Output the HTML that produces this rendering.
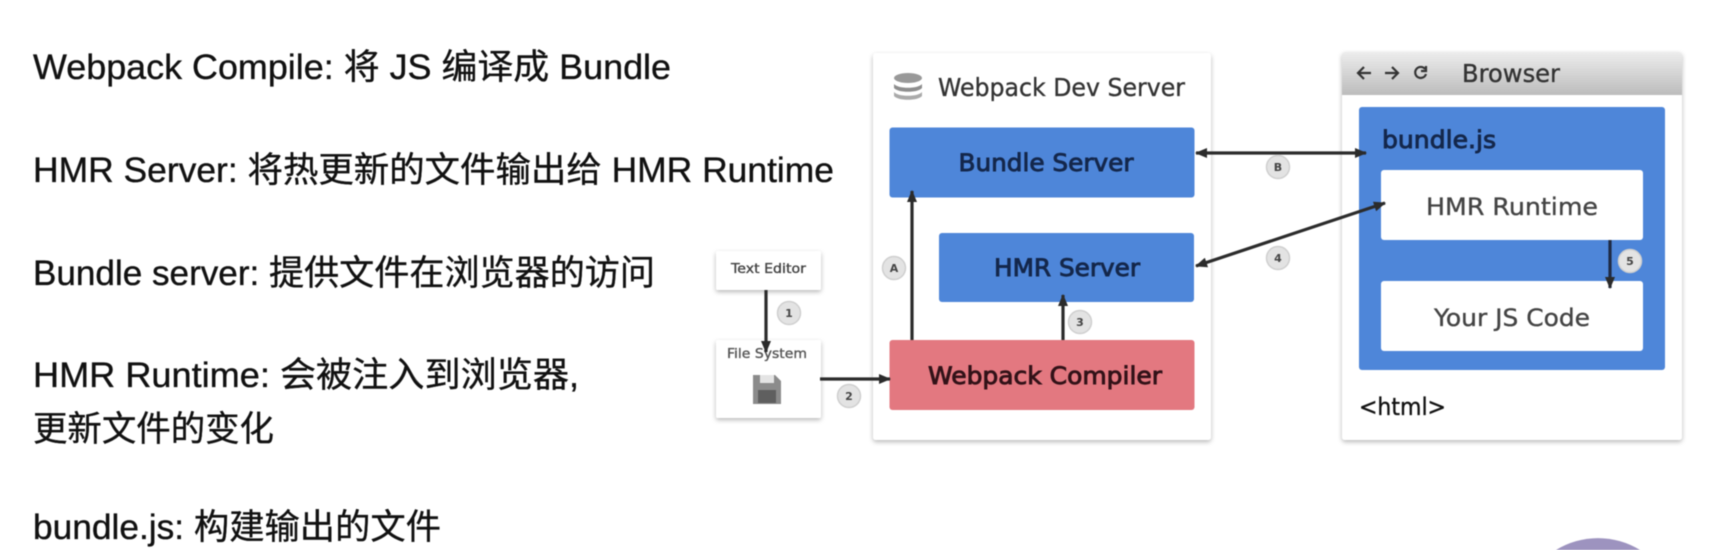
<!DOCTYPE html>
<html><head><meta charset="utf-8"><style>
html,body{margin:0;padding:0;background:#fff;width:1724px;height:550px;overflow:hidden}
svg{display:block;filter:blur(.6px)}
.l{font-family:"Liberation Sans","Noto Sans CJK SC",sans-serif;font-size:35px;fill:#111;stroke:#111;stroke-width:.35px}
.d{font-family:"DejaVu Sans","Noto Sans CJK SC",sans-serif;stroke-width:.35px}
.b{stroke-width:.9px}
.n{font-family:"DejaVu Sans",sans-serif;font-size:11px;font-weight:bold;fill:#444;text-anchor:middle}
</style></head><body>
<svg width="1724" height="550" viewBox="0 0 1724 550" xmlns="http://www.w3.org/2000/svg">
<defs>
<filter id="s" x="-10%" y="-10%" width="120%" height="125%"><feDropShadow dx="0" dy="2" stdDeviation="2.5" flood-color="#000" flood-opacity=".28"/></filter>
<linearGradient id="g" x1="0" y1="0" x2="0" y2="1"><stop offset="0" stop-color="#ededed"/><stop offset="1" stop-color="#bcbcbc"/></linearGradient>
<marker id="a" viewBox="0 0 12 10" refX="11" refY="5" markerWidth="13" markerHeight="10" markerUnits="userSpaceOnUse" orient="auto-start-reverse"><path d="M0 0L12 5L0 10z" fill="#2b2b2b"/></marker>
</defs>
<rect width="1724" height="550" fill="#fff"/>
<text class="l" x="33" y="79" textLength="638" lengthAdjust="spacingAndGlyphs">Webpack Compile: 将 JS 编译成 Bundle</text>
<text class="l" x="33" y="182" textLength="801" lengthAdjust="spacingAndGlyphs">HMR Server: 将热更新的文件输出给 HMR Runtime</text>
<text class="l" x="33" y="285" textLength="622" lengthAdjust="spacingAndGlyphs">Bundle server: 提供文件在浏览器的访问</text>
<text class="l" x="33" y="387" textLength="546" lengthAdjust="spacingAndGlyphs">HMR Runtime: 会被注入到浏览器,</text>
<text class="l" x="33" y="441" textLength="241" lengthAdjust="spacingAndGlyphs">更新文件的变化</text>
<text class="l" x="33" y="539" textLength="408" lengthAdjust="spacingAndGlyphs">bundle.js: 构建输出的文件</text>

<rect x="716" y="251" width="105" height="39" rx="2" fill="#fff" filter="url(#s)"/>
<text class="d" x="768.5" y="273" font-size="13.5" fill="#444" stroke="#444" text-anchor="middle" textLength="75" lengthAdjust="spacingAndGlyphs">Text Editor</text>
<rect x="716" y="340" width="105" height="78" rx="2" fill="#fff" filter="url(#s)"/>
<text class="d" x="767" y="358" font-size="13.5" fill="#555" stroke="#555" text-anchor="middle" textLength="80" lengthAdjust="spacingAndGlyphs">File System</text>
<path d="M753 375h22l6 6v23h-28z" fill="#8b8b8b"/><rect x="760" y="375" width="14" height="8" fill="#e4e4e4"/><rect x="758" y="390" width="18" height="13" fill="#5f5f5f"/>

<rect x="873" y="53" width="338" height="387" rx="3" fill="#fff" filter="url(#s)"/>
<ellipse cx="908" cy="78" rx="14" ry="5" fill="#999"/>
<path d="M894 84c4 5 24 5 28 0v4c-4 5-24 5-28 0z" fill="#8e8e8e"/><path d="M894 92c4 5 24 5 28 0v4c-4 5-24 5-28 0z" fill="#aaa"/>
<text class="d" x="938" y="96" font-size="25" fill="#333" stroke="#333" textLength="247" lengthAdjust="spacingAndGlyphs">Webpack Dev Server</text>

<rect x="889.500" y="127.500" width="305" height="70" rx="3" fill="#4e86d9"/>
<text class="d b" x="1046" y="171" font-size="24" fill="#14274b" stroke="#14274b" text-anchor="middle" textLength="175" lengthAdjust="spacingAndGlyphs">Bundle Server</text>
<rect x="939" y="233" width="255" height="69" rx="3" fill="#4e86d9"/>
<text class="d b" x="1067" y="276" font-size="24" fill="#14274b" stroke="#14274b" text-anchor="middle" textLength="146" lengthAdjust="spacingAndGlyphs">HMR Server</text>
<rect x="889.500" y="340" width="305" height="70" rx="3" fill="#e37880"/>
<text class="d b" x="1045" y="384" font-size="24" fill="#321218" stroke="#321218" text-anchor="middle" textLength="234" lengthAdjust="spacingAndGlyphs">Webpack Compiler</text>

<rect x="1342" y="52" width="340" height="388" rx="3" fill="#fff" filter="url(#s)"/>
<path d="M1342 95V55a3 3 0 0 1 3-3h334a3 3 0 0 1 3 3v40z" fill="url(#g)"/>
<g stroke="#333" stroke-width="2.2" fill="none">
<path d="M1371 73H1359M1364 67l-6 6l6 6"/>
<path d="M1385 73H1397M1392 67l6 6l-6 6"/>
<path d="M1425 69a5.500 5.500 0 1 0 1 5M1426 66v5h-5"/>
</g>
<text class="d" x="1462" y="82" font-size="25" fill="#333" stroke="#333" textLength="98" lengthAdjust="spacingAndGlyphs">Browser</text>
<rect x="1359" y="107" width="306" height="263" rx="3" fill="#4e86d9"/>
<text class="d b" x="1382" y="148" font-size="24" fill="#14274b" stroke="#14274b" textLength="114" lengthAdjust="spacingAndGlyphs">bundle.js</text>
<rect x="1381" y="170" width="262" height="70" rx="3" fill="#fff"/>
<text class="d" x="1512" y="215" font-size="24" fill="#444" stroke="#444" text-anchor="middle" textLength="172" lengthAdjust="spacingAndGlyphs">HMR Runtime</text>
<rect x="1381" y="281" width="262" height="70" rx="3" fill="#fff"/>
<text class="d" x="1512" y="326" font-size="24" fill="#444" stroke="#444" text-anchor="middle" textLength="156" lengthAdjust="spacingAndGlyphs">Your JS Code</text>
<text class="d" x="1359" y="415" font-size="24" fill="#111" stroke="#111" textLength="87" lengthAdjust="spacingAndGlyphs">&lt;html&gt;</text>

<g stroke="#2b2b2b" stroke-width="3.2" fill="none">
<path d="M766 290V352" marker-end="url(#a)"/>
<path d="M820 379H890" marker-end="url(#a)"/>
<path d="M912 340V191" marker-end="url(#a)"/>
<path d="M1063 340V295" marker-end="url(#a)"/>
<path d="M1196 153H1366" marker-start="url(#a)" marker-end="url(#a)"/>
<path d="M1196 266L1385 203" marker-start="url(#a)" marker-end="url(#a)"/>
<path d="M1610 240V288" stroke="#1e2a44" marker-end="url(#a)"/>
</g>
<g fill="#e3e3e3" stroke="#cfcfcf" stroke-width="1.500">
<circle cx="789" cy="313" r="11.500"/><circle cx="849" cy="396" r="11.500"/><circle cx="894" cy="268" r="11.500"/><circle cx="1080" cy="322" r="11.500"/><circle cx="1278" cy="167" r="11.500"/><circle cx="1278" cy="258" r="11.500"/><circle cx="1630" cy="261" r="11.500"/>
</g>
<text class="n" x="789" y="317">1</text><text class="n" x="849" y="400">2</text><text class="n" x="894" y="272">A</text><text class="n" x="1080" y="326">3</text><text class="n" x="1278" y="171">B</text><text class="n" x="1278" y="262">4</text><text class="n" x="1630" y="265">5</text>
<path d="M1556 550A80 80 0 0 1 1640 550z" fill="#9d93bf"/>
</svg>
</body></html>
